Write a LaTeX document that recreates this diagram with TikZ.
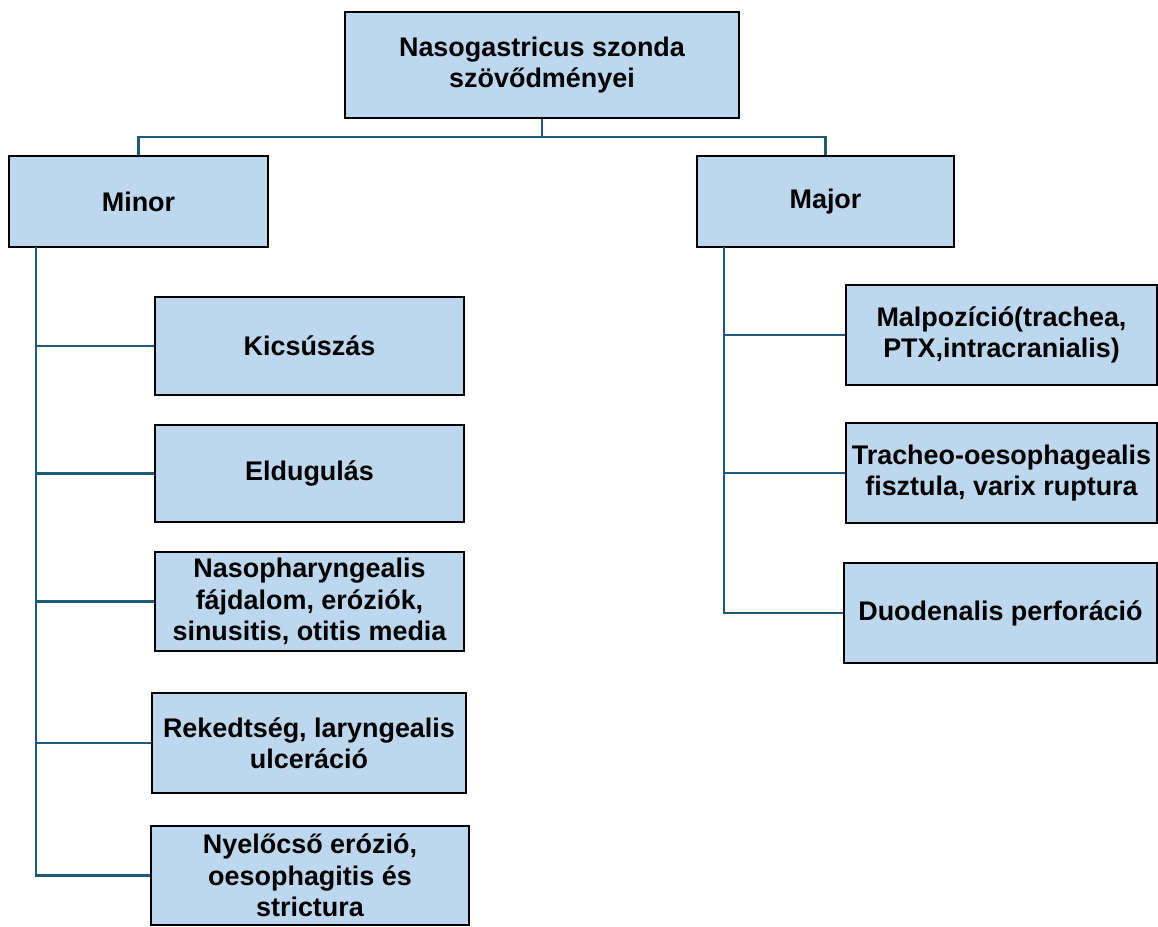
\documentclass[tikz,border=0pt]{standalone}
\usepackage{fontspec}
\setmainfont{Liberation Sans}
\definecolor{boxfill}{HTML}{BDD7EE}
\definecolor{linecol}{HTML}{1F5A7C}
\begin{document}
\begin{tikzpicture}[x=0.75pt,y=-0.75pt,
  box/.style={draw=black,line width=2.2pt,fill=boxfill,inner sep=0pt,align=center,font=\fontsize{20.2}{23.5}\selectfont\bfseries},
  conn/.style={draw=linecol,line width=1.8pt}]
\useasboundingbox (0,0) rectangle (1158,927);
\newcommand{\bx}[6]{\node[box,minimum width=#4*0.75pt-#2*0.75pt,minimum height=#5*0.75pt-#3*0.75pt] (#1) at ({(#2+#4)/2},{(#3+#5)/2}) {#6};}
\bx{top}{345}{12}{739}{118}{Nasogastricus szonda\\szövődményei}
\bx{minor}{9}{156}{268}{247}{Minor}
\bx{major}{697}{156}{954}{247}{Major}
\bx{m1}{155}{297}{464}{395}{Kicsúszás}
\bx{m2}{155}{425}{464}{522}{Eldugulás}
\bx{m3}{155}{552}{464}{651}{Nasopharyngealis\\fájdalom, eróziók,\\sinusitis, otitis media}
\bx{m4}{152}{693}{466}{793}{Rekedtség, laryngealis\\ulceráció}
\bx{m5}{151}{826}{469}{925}{Nyelőcső erózió,\\oesophagitis és\\strictura}
\bx{j1}{846}{285}{1157}{385}{Malpozíció(trachea,\\PTX,intracranialis)}
\bx{j2}{846}{423}{1157}{523}{Tracheo-oesophagealis\\fisztula, varix ruptura}
\bx{j3}{844}{563}{1157}{663}{Duodenalis perforáció}
\coordinate (hub) at (543,137);
\coordinate (lt) at (36,247);
\coordinate (rt) at (724,247);
\draw[conn] (top.south) -- (top.south |- hub);
\draw[conn] (minor.north) -- (minor.north |- hub) -| (major.north);
\foreach \n in {m1,m2,m3,m4,m5}{\draw[conn] (\n.west) -| (lt);}
\foreach \n in {j1,j2,j3}{\draw[conn] (\n.west) -| (rt);}
\end{tikzpicture}
\end{document}
